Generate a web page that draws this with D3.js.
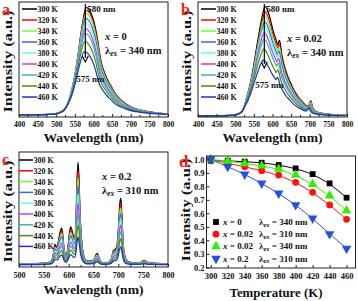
<!DOCTYPE html>
<html>
<head>
<meta charset="utf-8">
<script src="https://cdn.jsdelivr.net/npm/d3@7"></script>
<style>
body { margin: 0; background: #fff; }
text { font-family: "Liberation Serif", "Times New Roman", serif; font-weight: bold; }
</style>
</head>
<body>
<svg id="chart" width="358" height="301"></svg>
<script>
// temperatures shared by panels a-c
const temps = ["300 K", "320 K", "340 K", "360 K", "380 K", "400 K", "420 K", "440 K", "460 K"];
const colors = ["#000000", "#ff0000", "#66ff33", "#3366ff", "#66ffcc", "#cc33ff", "#33bb99", "#558800", "#1a33cc"];

// panel a : x = 0, 340 nm excitation (300 K shape, peak scale, peak position)
const wlA = [400, 450, 480, 500, 510, 520, 530, 540, 550, 556, 560, 570, 580, 590, 600, 610, 617, 620, 630, 640, 650, 660, 670, 680, 700, 720, 750, 780, 800];
const shapeA = [0, 0.002, 0.005, 0.012, 0.025, 0.045, 0.10, 0.21, 0.37, 0.50, 0.60, 0.84, 1.0, 0.97, 0.88, 0.72, 0.56, 0.50, 0.39, 0.31, 0.25, 0.19, 0.15, 0.12, 0.075, 0.05, 0.028, 0.015, 0.01];
const peakA = [1, 0.975, 0.944, 0.898, 0.857, 0.805, 0.759, 0.681, 0.588];
const posA = [580, 580, 579.5, 579, 578, 577.5, 577, 576, 575];

// panel b : x = 0.02, 340 nm excitation
const wlB = [400, 450, 480, 500, 510, 520, 530, 540, 550, 560, 570, 575, 580, 585, 590, 595, 600, 605, 610, 614, 618, 621, 625, 630, 640, 650, 660, 670, 680, 690, 696, 700, 703, 706, 710, 720, 740, 760, 800];
const shapeB = [0, 0.002, 0.005, 0.012, 0.025, 0.05, 0.16, 0.29, 0.47, 0.68, 0.87, 0.95, 1.0, 0.98, 0.93, 0.87, 0.80, 0.74, 0.69, 0.65, 0.69, 0.66, 0.56, 0.48, 0.37, 0.29, 0.22, 0.17, 0.13, 0.095, 0.09, 0.12, 0.14, 0.10, 0.06, 0.035, 0.02, 0.012, 0.006];
const peakB = [1, 0.95, 0.91, 0.86, 0.82, 0.76, 0.70, 0.61, 0.51];
const posB = [580, 580, 579.5, 579, 578, 577.5, 577, 576, 575];

// panel c : x = 0.2, 310 nm excitation
const wlC = [500, 520, 540, 555, 565, 569, 572, 575, 578, 581, 584, 586, 588, 591, 595, 599, 602, 604, 606, 609, 612, 615, 617, 619, 621, 623, 626, 630, 636, 645, 652, 655, 658, 661, 665, 672, 680, 686, 690, 693, 697, 700, 703, 705, 707, 710, 714, 720, 735, 745, 750, 753, 756, 765, 780, 800];
const shapeC = [0.01, 0.012, 0.015, 0.02, 0.04, 0.10, 0.20, 0.18, 0.20, 0.28, 0.34, 0.36, 0.30, 0.15, 0.09, 0.20, 0.33, 0.37, 0.35, 0.29, 0.27, 0.50, 0.85, 1.0, 0.82, 0.50, 0.25, 0.10, 0.04, 0.04, 0.06, 0.10, 0.11, 0.07, 0.03, 0.02, 0.025, 0.06, 0.14, 0.15, 0.18, 0.35, 0.60, 0.65, 0.50, 0.20, 0.07, 0.03, 0.02, 0.025, 0.04, 0.045, 0.03, 0.02, 0.015, 0.012];
const peakC = [1, 0.92, 0.85, 0.77, 0.69, 0.60, 0.50, 0.39, 0.27];
const posC = [619, 619, 619, 619, 619, 619, 619, 619, 619];

// panel d : normalized intensity vs temperature
const tempK = [300, 320, 340, 360, 380, 400, 420, 440, 460];
const dX0 = [0.99, 0.99, 0.983, 0.975, 0.958, 0.933, 0.891, 0.822, 0.716];
const dX002b = [1.0, 0.97, 0.946, 0.916, 0.884, 0.83, 0.756, 0.662, 0.556];
const dX002a = [1.0, 0.988, 0.97, 0.953, 0.928, 0.884, 0.815, 0.731, 0.62];
const dX02 = [1.0, 0.946, 0.889, 0.822, 0.748, 0.662, 0.563, 0.447, 0.34];
const dNames = ["x = 0", "x = 0.02", "x = 0.02", "x = 0.2"];
const dExc = ["340 nm", "310 nm", "340 nm", "310 nm"];

const svg = d3.select("#chart");

function styleAxis(ax, size) {
  ax.select(".domain").remove();
  ax.selectAll(".tick line").attr("stroke", "#222");
  ax.selectAll("text").attr("font-size", size).attr("fill", "#111");
}

function specPanel(p) {
  const g = svg.append("g");
  const x = d3.scaleLinear().domain(p.xDom).range([p.L, p.R]);
  const y = d3.scaleLinear().domain(p.yDom).range([p.B, p.T]);

  g.append("clipPath").attr("id", p.id)
    .append("rect").attr("x", p.L).attr("y", p.T).attr("width", p.R - p.L).attr("height", p.B - p.T);

  const line = d3.line()
    .x(d => x(d[0]))
    .y(d => y(d[1]))
    .curve(d3.curveMonotoneX);

  const curves = g.append("g").attr("clip-path", `url(#${p.id})`);
  temps.forEach((t, i) => {
    const pts = p.wl.map((w, j) => [w + p.pos[i] - p.pos[0], p.shape[j] * p.peak[i]]);
    curves.append("path")
      .datum(pts)
      .attr("fill", "none")
      .attr("stroke", colors[i])
      .attr("stroke-width", 1.2)
      .attr("d", line);
  });

  // minor ticks
  const minor = d3.range(p.xDom[0] + 25, p.xDom[1], 50);
  g.selectAll(null).data(minor).enter().append("line")
    .attr("x1", d => x(d)).attr("x2", d => x(d))
    .attr("y1", p.B).attr("y2", p.B - 2)
    .attr("stroke", "#222");

  const ax = g.append("g")
    .attr("transform", `translate(0,${p.B})`)
    .call(d3.axisBottom(x).tickValues(d3.range(p.xDom[0], p.xDom[1] + 1, 50)).tickSizeInner(-3).tickSizeOuter(0).tickPadding(5));
  styleAxis(ax, p.tickSize);

  g.append("rect")
    .attr("x", p.L).attr("y", p.T)
    .attr("width", p.R - p.L).attr("height", p.B - p.T)
    .attr("fill", "none").attr("stroke", "#222").attr("stroke-width", 1);

  // legend
  temps.forEach((t, i) => {
    const ly = p.legY + i * p.legDy;
    g.append("line")
      .attr("x1", p.legX).attr("x2", p.legX + p.legW)
      .attr("y1", ly).attr("y2", ly)
      .attr("stroke", colors[i]).attr("stroke-width", 1.5);
    g.append("text")
      .attr("x", p.legX + p.legW + 0.5).attr("y", ly + 3)
      .attr("font-size", 8).attr("fill", "#111")
      .text(t);
  });

  // axis titles
  g.append("text")
    .attr("x", (p.L + p.R) / 2).attr("y", p.xTitleY)
    .attr("text-anchor", "middle").attr("font-size", 13)
    .attr("textLength", 100).attr("lengthAdjust", "spacingAndGlyphs")
    .attr("fill", "#111")
    .text("Wavelength (nm)");
  g.append("text")
    .attr("transform", `translate(${p.yTitleX},${(p.T + p.B) / 2 + 2}) rotate(-90)`)
    .attr("text-anchor", "middle").attr("font-size", 13)
    .attr("textLength", 102).attr("lengthAdjust", "spacingAndGlyphs")
    .attr("fill", "#111")
    .text("Intensity (a.u.)");

  // panel letter
  g.append("text")
    .attr("x", p.letterX).attr("y", p.letterY)
    .attr("font-size", 16).attr("fill", "#ff1a1a")
    .text(p.letter);

  // sample / excitation notes
  const note = g.append("text").attr("x", p.noteX).attr("y", p.noteY).attr("font-size", 10.5).attr("fill", "#111");
  note.append("tspan").attr("font-style", "italic").text("x");
  note.append("tspan").text(" = " + p.sample);
  const ex = g.append("text").attr("x", p.noteX).attr("y", p.noteY + 14).attr("font-size", 10.5).attr("fill", "#111");
  ex.append("tspan").text("λ");
  ex.append("tspan").attr("font-style", "italic").attr("font-size", 7.5).attr("dy", 2).text("ex");
  ex.append("tspan").attr("dy", -2).text(" = " + p.exc);

  if (p.arrow) {
    const ax0 = x(p.arrow[0]);
    g.append("line")
      .attr("x1", ax0).attr("x2", ax0)
      .attr("y1", p.arrow[1]).attr("y2", p.arrow[2] - 4)
      .attr("stroke", "#000").attr("stroke-width", 1.2);
    g.append("path")
      .attr("d", `M${ax0 - 3},${p.arrow[2] - 6} L${ax0},${p.arrow[2]} L${ax0 + 3},${p.arrow[2] - 6}`)
      .attr("fill", "none").attr("stroke", "#000").attr("stroke-width", 1.2);
    g.append("text").attr("x", ax0 + 2).attr("y", p.arrow[1] + 8).attr("font-size", 9).attr("fill", "#111").text("580 nm");
    g.append("text").attr("x", ax0 - 9).attr("y", p.arrow[2] + 20).attr("font-size", 9).attr("fill", "#111").text("575 nm");
  }
}

specPanel({
  id: "clipA", L: 19, R: 168, T: 2, B: 117, xDom: [400, 800], yDom: [-0.02, 1.05],
  wl: wlA, shape: shapeA, peak: peakA, pos: posA, tickSize: 7.5,
  legX: 22, legW: 15, legY: 9, legDy: 11,
  xTitleY: 142, yTitleX: 12, letter: "a", letterX: 2, letterY: 15,
  noteX: 105, noteY: 40, sample: "0", exc: "340 nm", arrow: [578, 4, 62]
});

specPanel({
  id: "clipB", L: 198, R: 347, T: 2, B: 117, xDom: [400, 800], yDom: [-0.01, 1.04],
  wl: wlB, shape: shapeB, peak: peakB, pos: posB, tickSize: 7.5,
  legX: 201, legW: 15, legY: 9, legDy: 11,
  xTitleY: 142, yTitleX: 191, letter: "b", letterX: 181, letterY: 15,
  noteX: 287, noteY: 42, sample: "0.02", exc: "340 nm", arrow: [578, 4, 68]
});

specPanel({
  id: "clipC", L: 19, R: 168, T: 152, B: 267, xDom: [500, 800], yDom: [-0.02, 1.1],
  wl: wlC, shape: shapeC, peak: peakC, pos: posC, tickSize: 8,
  legX: 19, legW: 14, legY: 160, legDy: 10.8,
  xTitleY: 294, yTitleX: 12, letter: "c", letterX: 2, letterY: 165,
  noteX: 102, noteY: 180, sample: "0.2", exc: "310 nm", arrow: null
});

// panel d
(function () {
  const L = 206.5, R = 355.5, T = 156, B = 268;
  const g = svg.append("g");
  const x = d3.scaleLinear().domain([295, 470.5]).range([L, R]);
  const y = d3.scaleLinear().domain([0.195, 1.025]).range([B, T]);

  const series = [
    { vals: dX0, color: "#000000", sym: d3.symbolSquare, size: 34, rot: 0 },
    { vals: dX002b, color: "#ff1010", sym: d3.symbolCircle, size: 36, rot: 0 },
    { vals: dX002a, color: "#33ee00", sym: d3.symbolTriangle, size: 40, rot: 0 },
    { vals: dX02, color: "#2a4fe0", sym: d3.symbolTriangle, size: 40, rot: 180 }
  ];

  const line = d3.line()
    .x((d, i) => x(tempK[i]))
    .y(d => y(d))
    .curve(d3.curveBasis);

  series.forEach(s => {
    g.append("path").datum(s.vals)
      .attr("fill", "none").attr("stroke", s.color).attr("stroke-width", 1)
      .attr("d", line);
  });
  series.forEach(s => {
    g.selectAll(null).data(s.vals).enter().append("path")
      .attr("transform", (d, i) => `translate(${x(tempK[i])},${y(d)}) rotate(${s.rot})`)
      .attr("d", d3.symbol().type(s.sym).size(s.size))
      .attr("fill", s.color);
  });

  const ax = g.append("g")
    .attr("transform", `translate(0,${B})`)
    .call(d3.axisBottom(x).tickValues(tempK).tickSizeInner(-3).tickSizeOuter(0).tickPadding(5));
  styleAxis(ax, 8.5);
  const ay = g.append("g")
    .attr("transform", `translate(${L},0)`)
    .call(d3.axisLeft(y).tickValues([0.2, 0.3, 0.4, 0.5, 0.6, 0.7, 0.8, 0.9, 1.0]).tickFormat(d3.format(".1f")).tickSizeInner(-3).tickSizeOuter(0).tickPadding(2));
  styleAxis(ay, 8.5);

  g.append("rect")
    .attr("x", L).attr("y", T).attr("width", R - L).attr("height", B - T)
    .attr("fill", "none").attr("stroke", "#222").attr("stroke-width", 1);

  // legend
  series.forEach((s, i) => {
    const ly = 222 + i * 12.2;
    g.append("path")
      .attr("transform", `translate(216,${ly}) rotate(${s.rot})`)
      .attr("d", d3.symbol().type(s.sym).size(s.size))
      .attr("fill", s.color);
    const t = g.append("text").attr("x", 223).attr("y", ly + 3).attr("font-size", 9).attr("fill", "#111");
    t.append("tspan").attr("font-style", "italic").text("x");
    t.append("tspan").text(dNames[i].slice(1));
    const e = g.append("text").attr("x", 259).attr("y", ly + 3).attr("font-size", 9).attr("fill", "#111");
    e.append("tspan").text("λ");
    e.append("tspan").attr("font-style", "italic").attr("font-size", 6.5).attr("dy", 1.5).text("ex");
    e.append("tspan").attr("dy", -1.5).text(" = " + dExc[i]);
  });

  g.append("text")
    .attr("x", 276).attr("y", 297)
    .attr("text-anchor", "middle").attr("font-size", 13)
    .attr("textLength", 93).attr("lengthAdjust", "spacingAndGlyphs")
    .attr("fill", "#111")
    .text("Temperature (K)");
  g.append("text")
    .attr("transform", `translate(190,210) rotate(-90)`)
    .attr("text-anchor", "middle").attr("font-size", 13)
    .attr("textLength", 103).attr("lengthAdjust", "spacingAndGlyphs")
    .attr("fill", "#111")
    .text("Intensity (a.u.)");
  g.append("text")
    .attr("x", 179).attr("y", 167)
    .attr("font-size", 17).attr("fill", "#ff1a1a")
    .text("d");
})();
</script>
</body>
</html>
